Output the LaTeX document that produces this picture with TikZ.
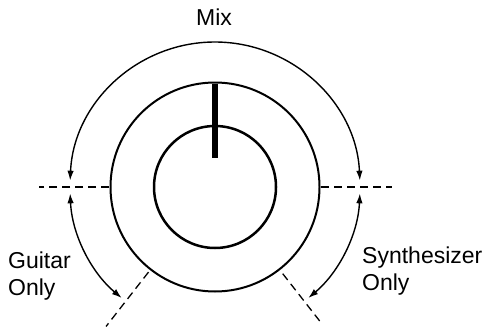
\documentclass[tikz,border=0pt]{standalone}
\usepackage{fontspec}
\setmainfont{Liberation Sans}
\usepackage{tikz}
\usetikzlibrary{calc, arrows.meta}
\tikzset{>={Latex[length=10pt,width=6.5pt]}}
\tikzset{
	ring/.style={draw, line width=2pt},
	sweep/.style={<->, line width=1.4pt},
	limit/.style={line width=1.3pt, dash pattern=on 8pt off 5pt},
	pointer/.style={line width=6pt, line cap=butt},
	knoblabel/.style={inner sep=0pt, font=\fontsize{23}{27}\selectfont, align=left}
}

\begin{document}
\begin{tikzpicture}[x=1pt, y=1pt]
	\useasboundingbox (0,0) rectangle (486,330);
	\coordinate (c) at (215,143);

% knob and pointer
	\draw[ring, line width=2.5pt] (c) circle[radius=61];
	\draw[ring] (c) circle[radius=104.5];
	\draw[pointer] ($(c)+(0,103.5)$) -- ($(c)+(0,29)$);

% limits of the ranges
	\draw[limit] ($(c)+(180:106)$) -- ($(c)+(180:176)$);
	\draw[limit] ($(c)+(0:106)$) -- ($(c)+(0:177)$);
	\draw[limit] ($(c)+(232:108)$) -- ($(c)+(232:177)$);
	\draw[limit] ($(c)+(-52:110)$) -- ($(c)+(-52:175)$);

% ranges
	\draw[sweep] ($(c)+(177.5:145)$) arc[start angle=177.5, end angle=2.5, radius=145];
	\draw[sweep] ($(c)+(182.5:145)$) arc[start angle=182.5, end angle=230, radius=145];
	\draw[sweep] ($(c)+(-2.5:145)$) arc[start angle=-2.5, end angle=-50, radius=145];

% labels (base is the last line)
	\node[knoblabel, anchor=base] (mix) at (214,304) {Mix};
	\node[knoblabel, anchor=base west] (guitar) at (8,35) {Guitar\\Only};
	\node[knoblabel, anchor=base west] (synth) at (362,40) {Synthesizer\\Only};
\end{tikzpicture}
\end{document}
